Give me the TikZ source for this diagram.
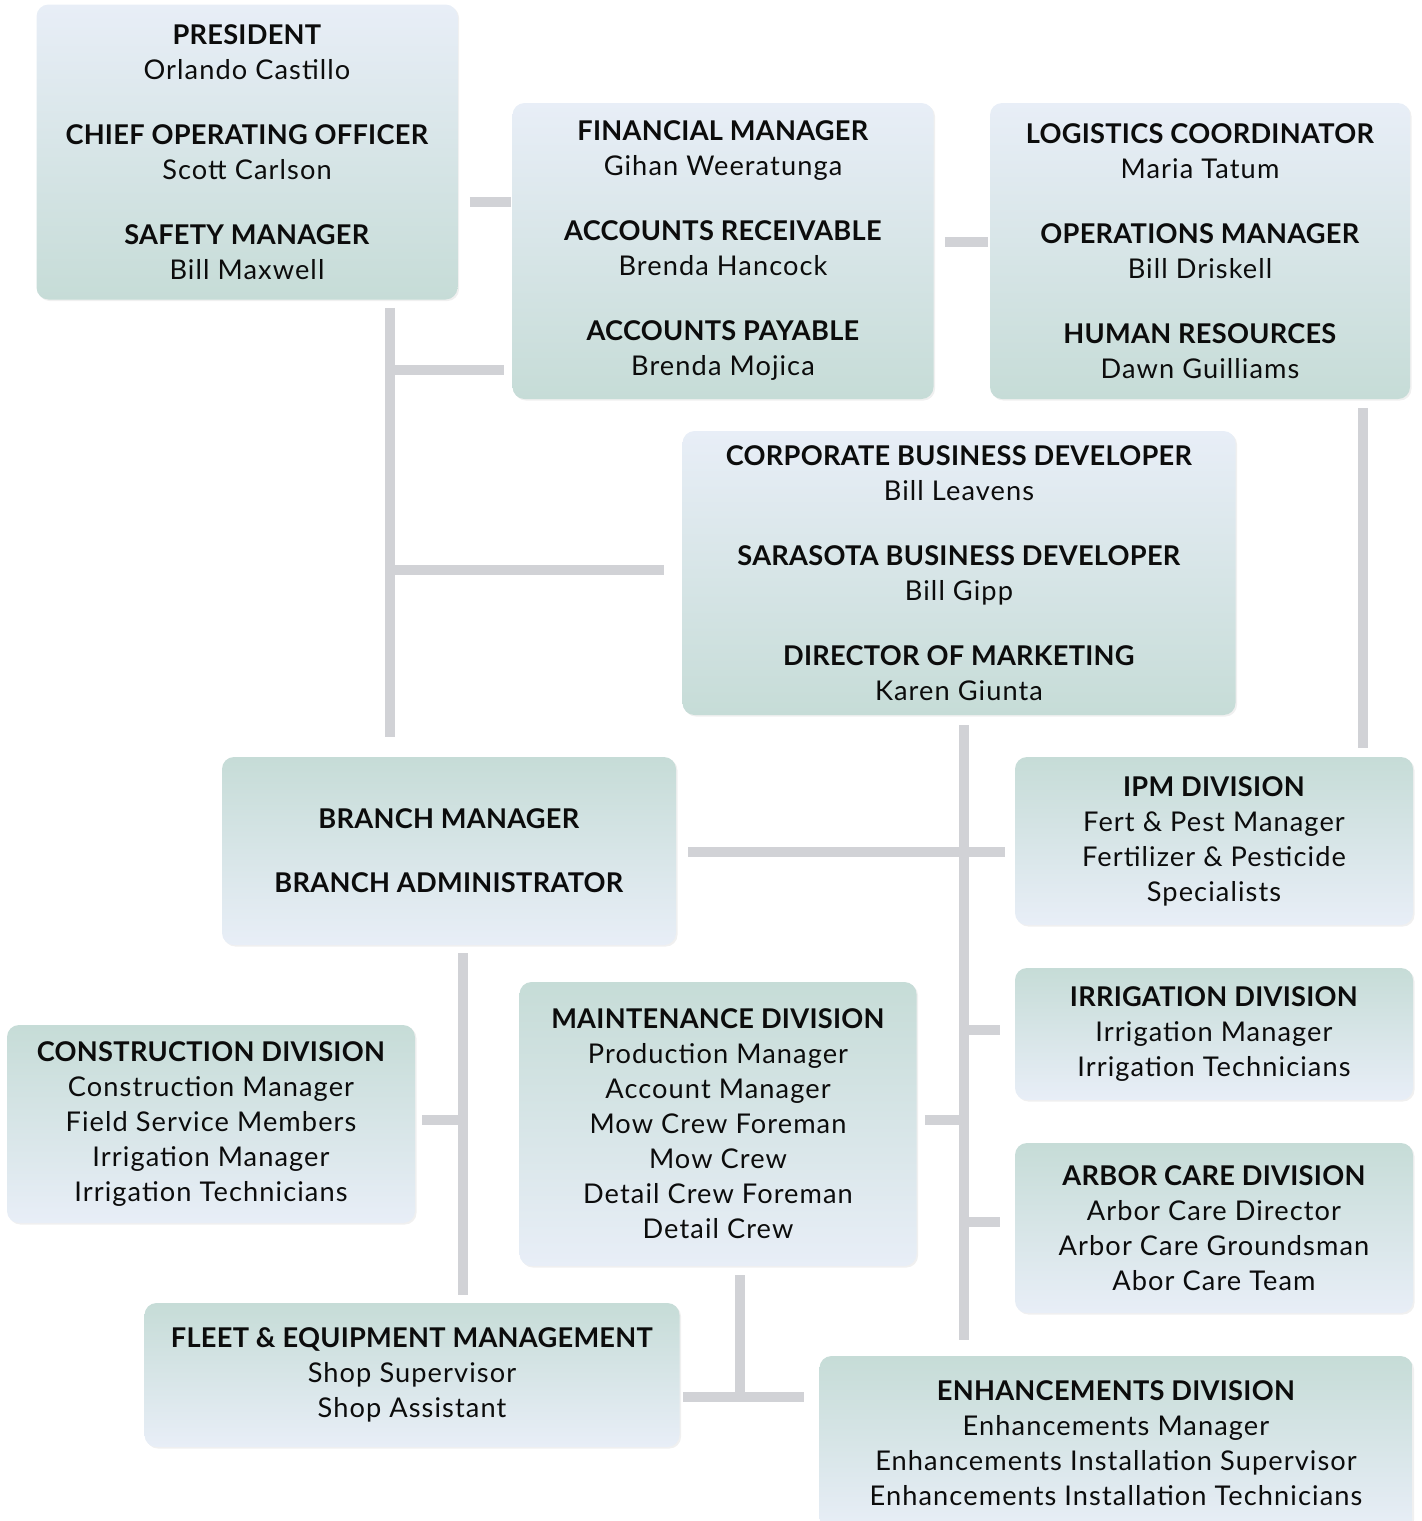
\documentclass[tikz,border=0pt]{standalone}
\usepackage{fontspec}
\setmainfont{Lato}[LetterSpace=4,BoldFeatures={LetterSpace=1}]
\usepackage{xcolor}
\usetikzlibrary{shadows}
\usetikzlibrary{positioning}
\usetikzlibrary{calc}
\definecolor{boxteal}{HTML}{C6DCD7}
\definecolor{boxlight}{HTML}{E8EEF7}
\definecolor{barcol}{HTML}{D1D2D6}
\definecolor{ink}{HTML}{0C0C0C}
\tikzstyle{orgbox}=[rectangle,rounded corners=6pt,align=center,inner sep=0pt,text=ink,font=\fontsize{13.6}{17.5}\selectfont,drop shadow={opacity=0.12,shadow xshift=0.8pt,shadow yshift=-0.8pt}]
\tikzstyle{boxdown}=[orgbox,top color=boxlight,bottom color=boxteal]
\tikzstyle{boxup}=[orgbox,top color=boxteal,bottom color=boxlight]
\tikzstyle{bar}=[draw=barcol,line width=5pt]
\newcommand{\hd}[1]{\textbf{#1}}
\newcommand{\gap}{\\[15pt]}

\begin{document}
\begin{tikzpicture}[x=0.5pt,y=-0.5pt]
 \useasboundingbox (0,0) rectangle (1421,1521);

 %Head office
 \foreach \x/\y/\w/\h/\name/\label in {
   247/152/421/295/pres/{\hd{PRESIDENT}\\Orlando Castillo\gap\hd{CHIEF OPERATING OFFICER}\\Scott Carlson\gap\hd{SAFETY MANAGER}\\Bill Maxwell},
   723/251/421/296/fin/{\hd{FINANCIAL MANAGER}\\Gihan Weeratunga\gap\hd{ACCOUNTS RECEIVABLE}\\Brenda Hancock\gap\hd{ACCOUNTS PAYABLE}\\Brenda Mojica},
   1200/251/420/296/logi/{\hd{LOGISTICS COORDINATOR}\\Maria Tatum\gap\hd{OPERATIONS MANAGER}\\Bill Driskell\gap\hd{HUMAN RESOURCES}\\Dawn Guilliams},
   959/573/553/284/corp/{\hd{CORPORATE BUSINESS DEVELOPER}\\Bill Leavens\gap\hd{SARASOTA BUSINESS DEVELOPER}\\Bill Gipp\gap\hd{DIRECTOR OF MARKETING}\\Karen Giunta}}
        \node[boxdown, minimum width=\w*0.5pt, minimum height=\h*0.5pt] (\name) at (\x,\y) {\label};

 %Branch and divisions
 \foreach \x/\y/\w/\h/\name/\label in {
   449/851/454/188/branch/{\hd{BRANCH MANAGER}\\[14.5pt]\hd{BRANCH ADMINISTRATOR}},
   1214/841/398/168/ipm/{\hd{IPM DIVISION}\\Fert \& Pest Manager\\Fertilizer \& Pesticide\\Specialists},
   1214/1034/398/132/irr/{\hd{IRRIGATION DIVISION}\\Irrigation Manager\\Irrigation Technicians},
   1214/1228/398/170/arbor/{\hd{ARBOR CARE DIVISION}\\Arbor Care Director\\Arbor Care Groundsman\\Abor Care Team},
   211/1124/408/198/constr/{\hd{CONSTRUCTION DIVISION}\\Construction Manager\\Field Service Members\\Irrigation Manager\\Irrigation Technicians},
   718/1124/397/284/maint/{\hd{MAINTENANCE DIVISION}\\Production Manager\\Account Manager\\Mow Crew Foreman\\Mow Crew\\Detail Crew Foreman\\Detail Crew},
   412/1375/535/144/fleet/{\hd{FLEET \& EQUIPMENT MANAGEMENT}\\Shop Supervisor\\Shop Assistant},
   1116/1443/593/174/enh/{\hd{ENHANCEMENTS DIVISION}\\Enhancements Manager\\Enhancements Installation Supervisor\\Enhancements Installation Technicians}}
        \node[boxup, minimum width=\w*0.5pt, minimum height=\h*0.5pt] (\name) at (\x,\y) {\label};

 %trunks
 \coordinate (ptrunk) at (390,0);
 \coordinate (ctrunk) at (964,0);
 \coordinate (btrunk) at (463,0);

 \draw[bar, shorten <=4pt, shorten >=10pt] (pres.south -| ptrunk) -- (branch.north -| ptrunk);
 \draw[bar, shorten <=4.5pt, shorten >=4.5pt] (logi.south -| 1363,0) -- (ipm.north -| 1363,0);
 \draw[bar, shorten <=5pt, shorten >=8pt] (corp.south -| ctrunk) -- (enh.north -| ctrunk);
 \draw[bar, shorten <=4pt, shorten >=4pt] (branch.south -| btrunk) -- (fleet.north -| btrunk);
 \draw[bar, shorten <=4.5pt] (maint.south -| 740,0) -- (740,1397);

 %branches
 \draw[bar, shorten <=6pt, shorten >=0.5pt] (pres.east |- 0,202) -- (fin.west |- 0,202);
 \draw[bar, shorten <=5.5pt, shorten >=1pt] (fin.east |- 0,242) -- (logi.west |- 0,242);
 \draw[bar, shorten >=4pt] (ptrunk |- 0,370) -- (fin.west |- 0,370);
 \draw[bar, shorten >=9pt] (ptrunk |- 0,570) -- (corp.west |- 0,570);
 \draw[bar, shorten <=6pt, shorten >=5pt] (branch.east |- 0,852) -- (ipm.west |- 0,852);
 \draw[bar, shorten >=7.5pt] (ctrunk |- 0,1030) -- (irr.west |- 0,1030);
 \draw[bar, shorten >=7.5pt] (ctrunk |- 0,1222) -- (arbor.west |- 0,1222);
 \draw[bar, shorten <=4pt] (maint.east |- 0,1120) -- (ctrunk |- 0,1120);
 \draw[bar, shorten <=3.5pt] (constr.east |- 0,1120) -- (btrunk |- 0,1120);
 \draw[bar, shorten <=1.5pt, shorten >=7.5pt] (fleet.east |- 0,1397) -- (enh.west |- 0,1397);

\end{tikzpicture}
\end{document}
